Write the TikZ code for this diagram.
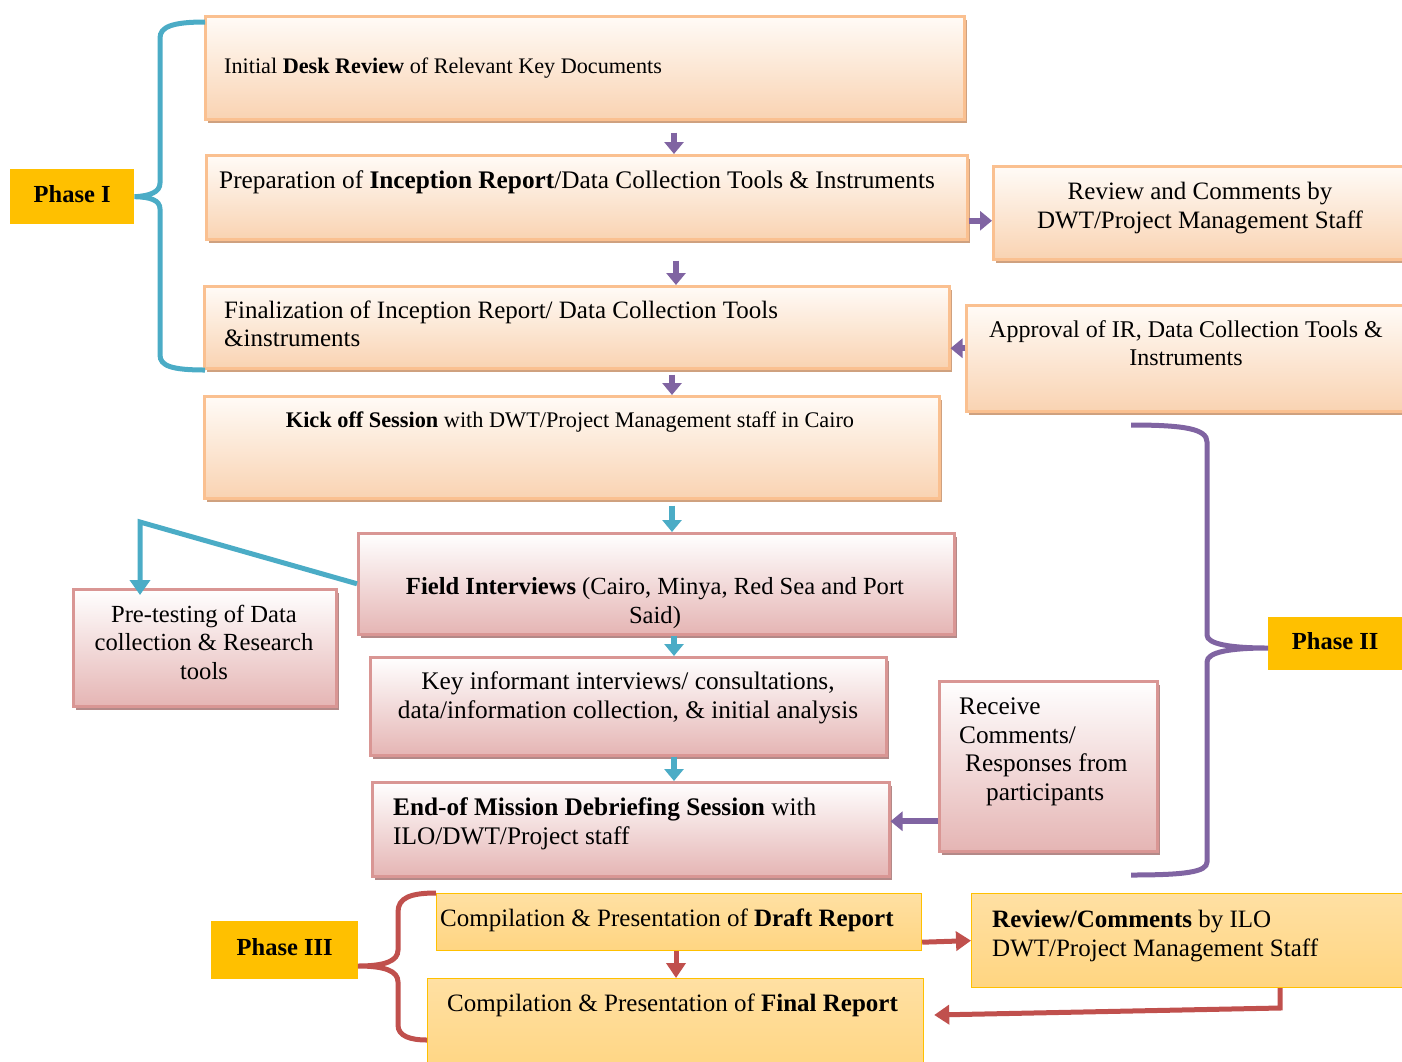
\documentclass[tikz,border=0pt]{standalone}
\usepackage{fontspec}
\setmainfont{Liberation Serif}
\usetikzlibrary{arrows.meta,shadows}
\definecolor{peachtop}{HTML}{FFFBF7}
\definecolor{peachbot}{HTML}{F9D3B2}
\definecolor{peachline}{HTML}{FAC090}
\definecolor{peachshad}{HTML}{CFA17F}
\definecolor{pinktop}{HTML}{FFFFFF}
\definecolor{pinkbot}{HTML}{E5B5B4}
\definecolor{pinkline}{HTML}{D99694}
\definecolor{pinkshad}{HTML}{B38988}
\definecolor{goldtop}{HTML}{FFE0A3}
\definecolor{goldbot}{HTML}{FFD581}
\definecolor{goldline}{HTML}{FFC000}
\definecolor{phasefill}{HTML}{FFC000}
\definecolor{cyanc}{HTML}{4BACC6}
\definecolor{purplec}{HTML}{8064A2}
\definecolor{redc}{HTML}{C0504D}
\newcommand\fs[1]{\fontsize{#1}{28.5}\selectfont}
\newcommand\mybox[6]{\node[#2, anchor=north west, inner sep=0pt, minimum width={#5pt-#3pt}, minimum height={#6pt-#4pt}] (#1) at (#3,#4) {};}
\tikzset{
  peachbox/.style={draw=peachline, line width=2.5pt, top color=peachtop, bottom color=peachbot,
    drop shadow={shadow xshift=3pt, shadow yshift=-4pt, fill=peachshad, opacity=1}},
  pinkbox/.style={draw=pinkline, line width=2.5pt, top color=pinktop, bottom color=pinkbot,
    drop shadow={shadow xshift=3pt, shadow yshift=-4pt, fill=pinkshad, opacity=1}},
  goldbox/.style={draw=goldline, line width=1.2pt, top color=goldtop, bottom color=goldbot},
  phasebox/.style={fill=phasefill, draw=none, font=\fs{24.5}\bfseries, text depth=6pt},
  txt/.style={inner sep=0pt, font=\fs{25}},
  arrP/.style={draw=purplec, line width=6pt, -{Triangle[width=19pt,length=12pt]}},
  arrC/.style={draw=cyanc, line width=6pt, -{Triangle[width=19pt,length=12pt]}},
  arrCl/.style={draw=cyanc, line width=5pt, -{Triangle[width=20pt,length=15pt]}},
  arrR/.style={draw=redc, line width=5pt, -{Triangle[width=19pt,length=15pt]}},
  brC/.style={draw=cyanc, line width=5pt},
  brP/.style={draw=purplec, line width=5pt},
  brR/.style={draw=redc, line width=5pt},
}
\begin{document}
\begin{tikzpicture}[x=1pt,y=-1pt]
\useasboundingbox (0,0) rectangle (1402,1061);
% boxes
\mybox{b1}{peachbox}{204}{15}{963}{118}
\mybox{b2}{peachbox}{205}{154}{966}{238}
\mybox{fz}{peachbox}{203}{285}{948}{367}
\mybox{rc}{peachbox}{992}{165}{1412}{258}
\mybox{ap}{peachbox}{965}{304}{1412}{410}
\mybox{ko}{peachbox}{203}{395}{938}{497}
\mybox{fi}{pinkbox}{357}{532}{953}{633}
\mybox{pt}{pinkbox}{72}{588}{335}{705}
\mybox{ki}{pinkbox}{369}{656}{885}{754}
\mybox{em}{pinkbox}{371}{781}{888}{875}
\mybox{rcv}{pinkbox}{938}{680}{1156}{850}
\mybox{dr}{goldbox}{436}{893}{921}{950}
\mybox{fr}{goldbox}{427}{978}{923}{1075}
\mybox{rv}{goldbox}{971}{893}{1412}{987}
% phase labels
\node[phasebox, minimum width=124pt, minimum height=55pt, anchor=north west] (p1) at (10,169) {Phase I};
\node[phasebox, minimum width=134pt, minimum height=53pt, anchor=north west] (p2) at (1268,617) {Phase II};
\node[phasebox, minimum width=147pt, minimum height=58pt, anchor=north west] (p3) at (211,921) {Phase III};
% texts
\node[txt, font=\fs{22.2}, anchor=west] (t1) at (224,68) {Initial \textbf{Desk Review} of Relevant Key Documents};
\node[txt, font=\fs{25.3}, anchor=west] (t2) at (219,182) {Preparation of \textbf{Inception Report}/Data Collection Tools \& Instruments};
\node[txt, anchor=west, align=left] (t3) at (224,324) {Finalization of Inception Report/ Data Collection Tools\\\&instruments};
\node[txt, align=center] (t4) at (1200,208) {Review and Comments by\\DWT/Project Management Staff};
\node[txt, font=\fs{24}, align=center] (t5) at (1186,343) {Approval of IR, Data Collection Tools \&\\Instruments};
\node[txt, font=\fs{22.3}] (t6) at (570,422) {\textbf{Kick off Session} with DWT/Project Management staff in Cairo};
\node[txt, font=\fs{24.6}, align=center] (t7) at (655,603) {\textbf{Field Interviews} (Cairo, Minya, Red Sea and Port\\Said)};
\node[txt, font=\fs{24.6}, align=center] (t8) at (204,642) {Pre-testing of Data\\collection \& Research\\tools};
\node[txt, font=\fs{25.3}, align=center] (t9) at (628,698) {Key informant interviews/ consultations,\\data/information collection, \& initial analysis};
\node[txt, font=\fs{25.3}, anchor=west, align=left] (t10) at (393,824) {\textbf{End-of Mission Debriefing Session} with\\ILO/DWT/Project staff};
\node[txt, font=\fs{25.3}, anchor=west, align=left] (t11) at (959,752) {Receive\\Comments/\\\hspace*{6pt}Responses from\\\hspace*{27pt}participants};
\node[txt, anchor=west] (t12) at (440,920) {Compilation \& Presentation of \textbf{Draft Report}};
\node[txt, anchor=west] (t13) at (447,1005) {Compilation \& Presentation of \textbf{Final Report}};
\node[txt, anchor=west, align=left] (t14) at (992,936) {\textbf{Review/Comments} by ILO\\DWT/Project Management Staff};
% braces
\draw[brC] (205,22) .. controls (172,22) and (160,27) .. (160,38) -- (160,183)
  .. controls (160,192) and (150,196) .. (p1.east)
  .. controls (150,197) and (160,200) .. (160,209) -- (160,355)
  .. controls (160,366) and (172,370) .. (205,370);
\draw[brP] (1131,425) .. controls (1185,425) and (1207,429) .. (1207,442) -- (1207,635)
  .. controls (1207,644) and (1230,648) .. (1268,648)
  .. controls (1230,648) and (1207,652) .. (1207,662) -- (1207,862)
  .. controls (1207,872) and (1185,875) .. (1131,875);
\draw[brR] (436,893) .. controls (410,893) and (398,898) .. (398,912) -- (398,950)
  .. controls (398,961) and (385,966) .. (358,966)
  .. controls (385,966) and (398,971) .. (398,982) -- (398,1025)
  .. controls (398,1036) and (410,1040) .. (427,1040);
% connectors
\coordinate (col) at (674,0);
\coordinate (col2) at (676,0);
\coordinate (col3) at (672,0);
\draw[arrP] (b1.south -| col) ++(0,12) -- (b2.north -| col);
\draw[arrP] (b2.south -| col2) ++(0,20) -- (fz.north -| col2);
\draw[arrP] (fz.south -| col3) ++(0,5) -- (ko.north -| col3);
\draw[arrP] ([yshift=-8pt]rc.west -| b2.east) -- ([yshift=-8pt]rc.west);
\draw[arrP] ([yshift=10pt]ap.west) -- ([yshift=10pt]ap.west -| fz.east);
\draw[arrC] (ko.south -| col3) ++(0,6) -- (fi.north -| col3);
\draw[arrC] (fi.south -| col) -- (ki.north -| col);
\draw[arrC] (ki.south -| col) -- (em.north -| col);
\coordinate (bend) at (140,522);
\draw[arrCl] (fi.west) -- (bend) -- ([yshift=-7pt]bend |- pt.north);
\draw[arrP] ([yshift=-55pt]rcv.west) -- ([yshift=-55pt]rcv.west -| em.east);
\draw[arrR] ([yshift=9pt]dr.south east) -- (rv.west);
\draw[arrR] (dr.south -| col2) -- (fr.north -| col2);
\coordinate (rk) at (1280,1008);
\draw[arrR] (rv.south -| rk) -- (rk) -- ([xshift=10pt,yshift=-37pt]fr.north east);
\end{tikzpicture}
\end{document}
